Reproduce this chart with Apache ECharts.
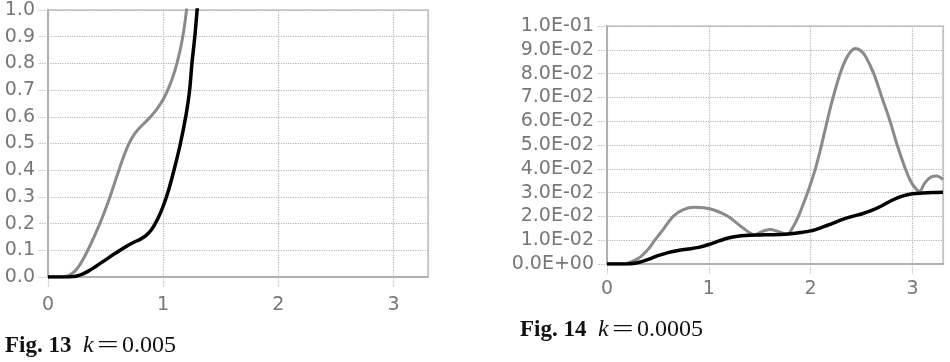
<!DOCTYPE html>
<html><head><meta charset="utf-8">
<script src="https://cdn.jsdelivr.net/npm/echarts@6/dist/echarts.min.js"></script>
<style>html,body{margin:0;padding:0;background:#fff}#c{width:950px;height:362px}</style>
</head><body><div id="c"></div>
<script>
// ---- data ----
const xTickLabels = ['0', '1', '2', '3'];
const fig13YTickLabels = ['0.0','0.1','0.2','0.3','0.4','0.5','0.6','0.7','0.8','0.9','1.0'];
const fig14YTickLabels = ['0.0E+00','1.0E-02','2.0E-02','3.0E-02','4.0E-02','5.0E-02','6.0E-02','7.0E-02','8.0E-02','9.0E-02','1.0E-01'];

const fig13Gray = [[0,0],[0.1,0],[0.15,0.002],[0.2,0.01],[0.25,0.03],[0.3,0.063],[0.35,0.104],[0.4,0.15],[0.45,0.2],[0.5,0.255],[0.55,0.315],[0.6,0.38],[0.65,0.443],[0.7,0.497],[0.75,0.535],[0.8,0.561],[0.85,0.582],[0.9,0.605],[0.95,0.632],[1.0,0.665],[1.05,0.71],[1.1,0.77],[1.15,0.855],[1.18,0.925],[1.2,0.99],[1.22,1.07]];
const fig13Black = [[0,0],[0.15,0],[0.2,0.001],[0.25,0.004],[0.3,0.011],[0.35,0.022],[0.4,0.035],[0.45,0.05],[0.5,0.064],[0.55,0.079],[0.6,0.093],[0.65,0.107],[0.7,0.12],[0.75,0.131],[0.8,0.141],[0.85,0.155],[0.9,0.178],[0.95,0.215],[1.0,0.265],[1.05,0.33],[1.1,0.41],[1.15,0.5],[1.2,0.61],[1.23,0.7],[1.25,0.8],[1.275,0.9],[1.295,1.0],[1.32,1.12]];

const fig14Gray = [[0,0],[0.15,0],[0.2,0.0003],[0.31,0.0024],[0.4,0.006],[0.47,0.01],[0.56,0.015],[0.65,0.02],[0.75,0.0228],[0.86,0.0238],[0.95,0.0236],[1.05,0.0227],[1.19,0.02],[1.34,0.015],[1.45,0.0122],[1.52,0.0136],[1.6,0.0145],[1.68,0.0137],[1.77,0.0125],[1.82,0.015],[1.88,0.02],[1.97,0.03],[2.04,0.039],[2.09,0.047],[2.14,0.056],[2.19,0.065],[2.24,0.073],[2.29,0.08],[2.34,0.0855],[2.39,0.0891],[2.44,0.0905],[2.49,0.0897],[2.54,0.0872],[2.62,0.08],[2.7,0.07],[2.78,0.06],[2.85,0.05],[2.93,0.04],[2.98,0.035],[3.03,0.0318],[3.07,0.0305],[3.12,0.034],[3.18,0.0365],[3.24,0.037],[3.3,0.0355]];
const fig14Black = [[0,0],[0.2,0],[0.3,0.0005],[0.4,0.0018],[0.5,0.0035],[0.6,0.0048],[0.7,0.0057],[0.8,0.0063],[0.9,0.007],[1.0,0.0082],[1.1,0.0097],[1.2,0.011],[1.3,0.0118],[1.4,0.0121],[1.5,0.0122],[1.6,0.0123],[1.7,0.0124],[1.8,0.0127],[1.9,0.0132],[2.0,0.0139],[2.1,0.0152],[2.2,0.0168],[2.3,0.0185],[2.4,0.0199],[2.5,0.021],[2.6,0.0225],[2.7,0.0245],[2.8,0.0268],[2.9,0.0285],[3.0,0.0295],[3.1,0.0298],[3.2,0.03],[3.3,0.0301]];

const captionFigs = ['Fig. 13', 'Fig. 14'];
const captionKs = ['0.005', '0.0005'];

// ---- chart ----
const chart = echarts.init(document.getElementById('c'), null, {renderer: 'canvas'});
const labelFont = {color: '#777', fontFamily: 'DejaVu Sans', fontSize: 19};
const splitStyle = {show: true, lineStyle: {type: 'dotted', color: '#b5b5b5', width: 1.2}};
const axisLine = {show: true, onZero: false, lineStyle: {color: '#b0b0b0', width: 2}};
const tickStyle = {show: true, inside: false, length: 10, lineStyle: {type: 'dotted', color: '#b5b5b5', width: 1.2}};

function xAxis(gridIndex, margin) {
  return {
    type: 'value', gridIndex, min: 0, max: 3.3, interval: 1,
    axisLine, axisTick: tickStyle, splitLine: splitStyle,
    axisLabel: Object.assign({margin, showMaxLabel: false,
      formatter: v => (Math.abs(v - Math.round(v)) < 1e-9 ? xTickLabels[Math.round(v)] || '' : '')}, labelFont)
  };
}
function yAxis(gridIndex, max, labels) {
  const step = max / 10;
  return {
    type: 'value', gridIndex, min: 0, max, interval: step,
    axisLine, axisTick: tickStyle, splitLine: splitStyle,
    axisLabel: Object.assign({margin: 13,
      formatter: v => labels[Math.round(v / step)] || ''}, labelFont)
  };
}

// caption pieces: [text, x offset, font size, weight, style, scaleX]
function captionParts(i, x0, base) {
  const parts = [
    [captionFigs[i], 0, 23, 'bold', 'normal', 1],
    ['k', 78, 24, 'normal', 'italic', 1],
    ['=', 92, 24, 'normal', 'normal', 1.6],
    [captionKs[i], 117, 24, 'normal', 'normal', 1]
  ];
  return parts.map(p => ({
    type: 'text', x: x0 + p[1], y: base - Math.round(p[2] * 0.86), scaleX: p[5],
    style: {text: p[0], fontFamily: 'Liberation Serif', fontSize: p[2], fontWeight: p[3], fontStyle: p[4], fill: '#111', verticalAlign: 'top'}
  }));
}

chart.setOption({
  animation: false,
  grid: [
    {left: 48, top: 10, width: 380, height: 267, show: true, borderColor: '#c4c4c4', borderWidth: 1.5, containLabel: false},
    {left: 607, top: 26, width: 336, height: 238, show: true, borderColor: '#c4c4c4', borderWidth: 1.5, containLabel: false}
  ],
  xAxis: [xAxis(0, 19), xAxis(1, 16)],
  yAxis: [yAxis(0, 1, fig13YTickLabels), yAxis(1, 0.1, fig14YTickLabels)],
  series: [
    {type: 'line', xAxisIndex: 0, yAxisIndex: 0, data: fig13Gray, smooth: 0.3, showSymbol: false, lineStyle: {color: '#8a8a8a', width: 3}},
    {type: 'line', xAxisIndex: 0, yAxisIndex: 0, data: fig13Black, smooth: 0.3, showSymbol: false, lineStyle: {color: '#000', width: 3.5}},
    {type: 'line', xAxisIndex: 1, yAxisIndex: 1, data: fig14Gray, smooth: 0.3, showSymbol: false, lineStyle: {color: '#8a8a8a', width: 3}},
    {type: 'line', xAxisIndex: 1, yAxisIndex: 1, data: fig14Black, smooth: 0.3, showSymbol: false, lineStyle: {color: '#000', width: 3.5}}
  ],
  graphic: captionParts(0, 5, 355).concat(captionParts(1, 520, 339))
});
</script>
</body></html>
